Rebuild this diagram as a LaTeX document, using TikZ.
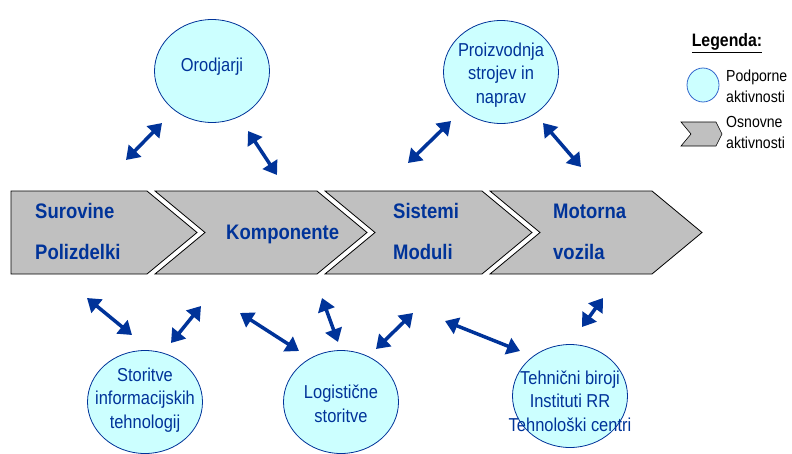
\documentclass[tikz,border=0pt]{standalone}
\usepackage{fontspec}
\setmainfont{Liberation Sans}[FakeStretch=0.88]
\usetikzlibrary{arrows.meta,shapes.geometric}
\definecolor{navy}{HTML}{003399}
\definecolor{suppfill}{HTML}{CCFFFF}
\definecolor{chevgray}{HTML}{C0C0C0}
\definecolor{legblue}{HTML}{3366CC}
\def\chevron(#1:#2:#3){\draw[chev] (#1,191) -- (#2,191) -- (#2+50,232.5) -- (#2,274) -- (#1,274) -- (#3,232.5) -- cycle;}
\tikzset{
	chev/.style={draw=black, line width=0.8pt, fill=chevgray},
	chevtext/.style={anchor=west, inner sep=0pt, text=navy, font=\fontsize{21}{21}\selectfont\bfseries},
	support/.style={ellipse, draw=navy, line width=0.8pt, fill=suppfill, minimum width=115, minimum height=103, inner sep=0pt},
	supporttext/.style={align=center, inner sep=0pt, text=navy, font=\fontsize{18.7}{23.5}\selectfont},
	legtext/.style={anchor=west, align=left, inner sep=0pt, font=\fontsize{16}{21}\selectfont},
	dbl/.style={{Triangle[length=13pt,width=17pt]}-{Triangle[length=13pt,width=17pt]}, line width=3.5pt, draw=navy}
}

\begin{document}
\begin{tikzpicture}[x=1pt, y=-1pt]
			%%%%% START %%%%%
			\useasboundingbox (0,0) rectangle (792,453);
			
			\chevron(11:147:11)
			\chevron(155:317:205)
			\chevron(325:482:375)
			\chevron(490:652:540)
			
			\node[chevtext] (sur) at (35,211) {Surovine};
			\node[chevtext] (pol) at (35,252) {Polizdelki};
			\node[chevtext] (kom) at (226,234) {Komponente};
			\node[chevtext] (sis) at (393,211) {Sistemi};
			\node[chevtext] (mod) at (393,252) {Moduli};
			\node[chevtext] (mot) at (553,211) {Motorna};
			\node[chevtext] (voz) at (553,252) {vozila};
			
			\node[support] (oro) at (212,71) {};
			\node[supporttext] at (212,67) {Orodjarji};
			\node[support] (pro) at (501,72) {};
			\node[supporttext] at (501,75) {Proizvodnja\\strojev in\\naprav};
			\node[support] (sti) at (145,402) {};
			\node[supporttext] at (145,400) {Storitve\\informacijskih\\tehnologij};
			\node[support] (log) at (341,402) {};
			\node[supporttext] at (341,404) {Logistične\\storitve};
			\node[support] (teh) at (570,396) {};
			\node[supporttext] at (570,401) {Tehnični biroji\\Instituti RR\\Tehnološki centri};
			
			% double arrows
			\foreach \n/\xa/\ya/\xb/\yb in {a1/126/160/162/123, a2/248/131/277/175,
				a3/408/163/451/121, a4/543/123/581/167, b1/87/298/132/335,
				b2/171/343/201/306, b3/240/313/299/351, b4/322/298/338/342,
				b5/376/349/413/313, b6/445/321/520/351, b7/582/327/603/298}{
				\coordinate (\n s) at (\xa,\ya);
				\coordinate (\n e) at (\xb,\yb);
				\draw[dbl] (\n s) -- (\n e);
			}
			
			% legend
			\node[inner sep=0pt, font=\fontsize{18}{18}\selectfont\bfseries] (leg) at (727,43) {\underline{Legenda:}};
			\node[ellipse, draw=legblue, line width=0.8pt, fill=suppfill, minimum width=32, minimum height=34, inner sep=0pt] (legc) at (703,85) {};
			\node[legtext] (legct) at (726,86) {Podporne\\aktivnosti};
			\draw[chev, line width=0.6pt] (681,122) -- (716,122) -- (722,134) -- (716,146) -- (681,146) -- (691,134) -- cycle;
			\node[legtext] (legst) at (726,132) {Osnovne\\aktivnosti};
			
			%%%%% END %%%%%
		\end{tikzpicture}
\end{document}
